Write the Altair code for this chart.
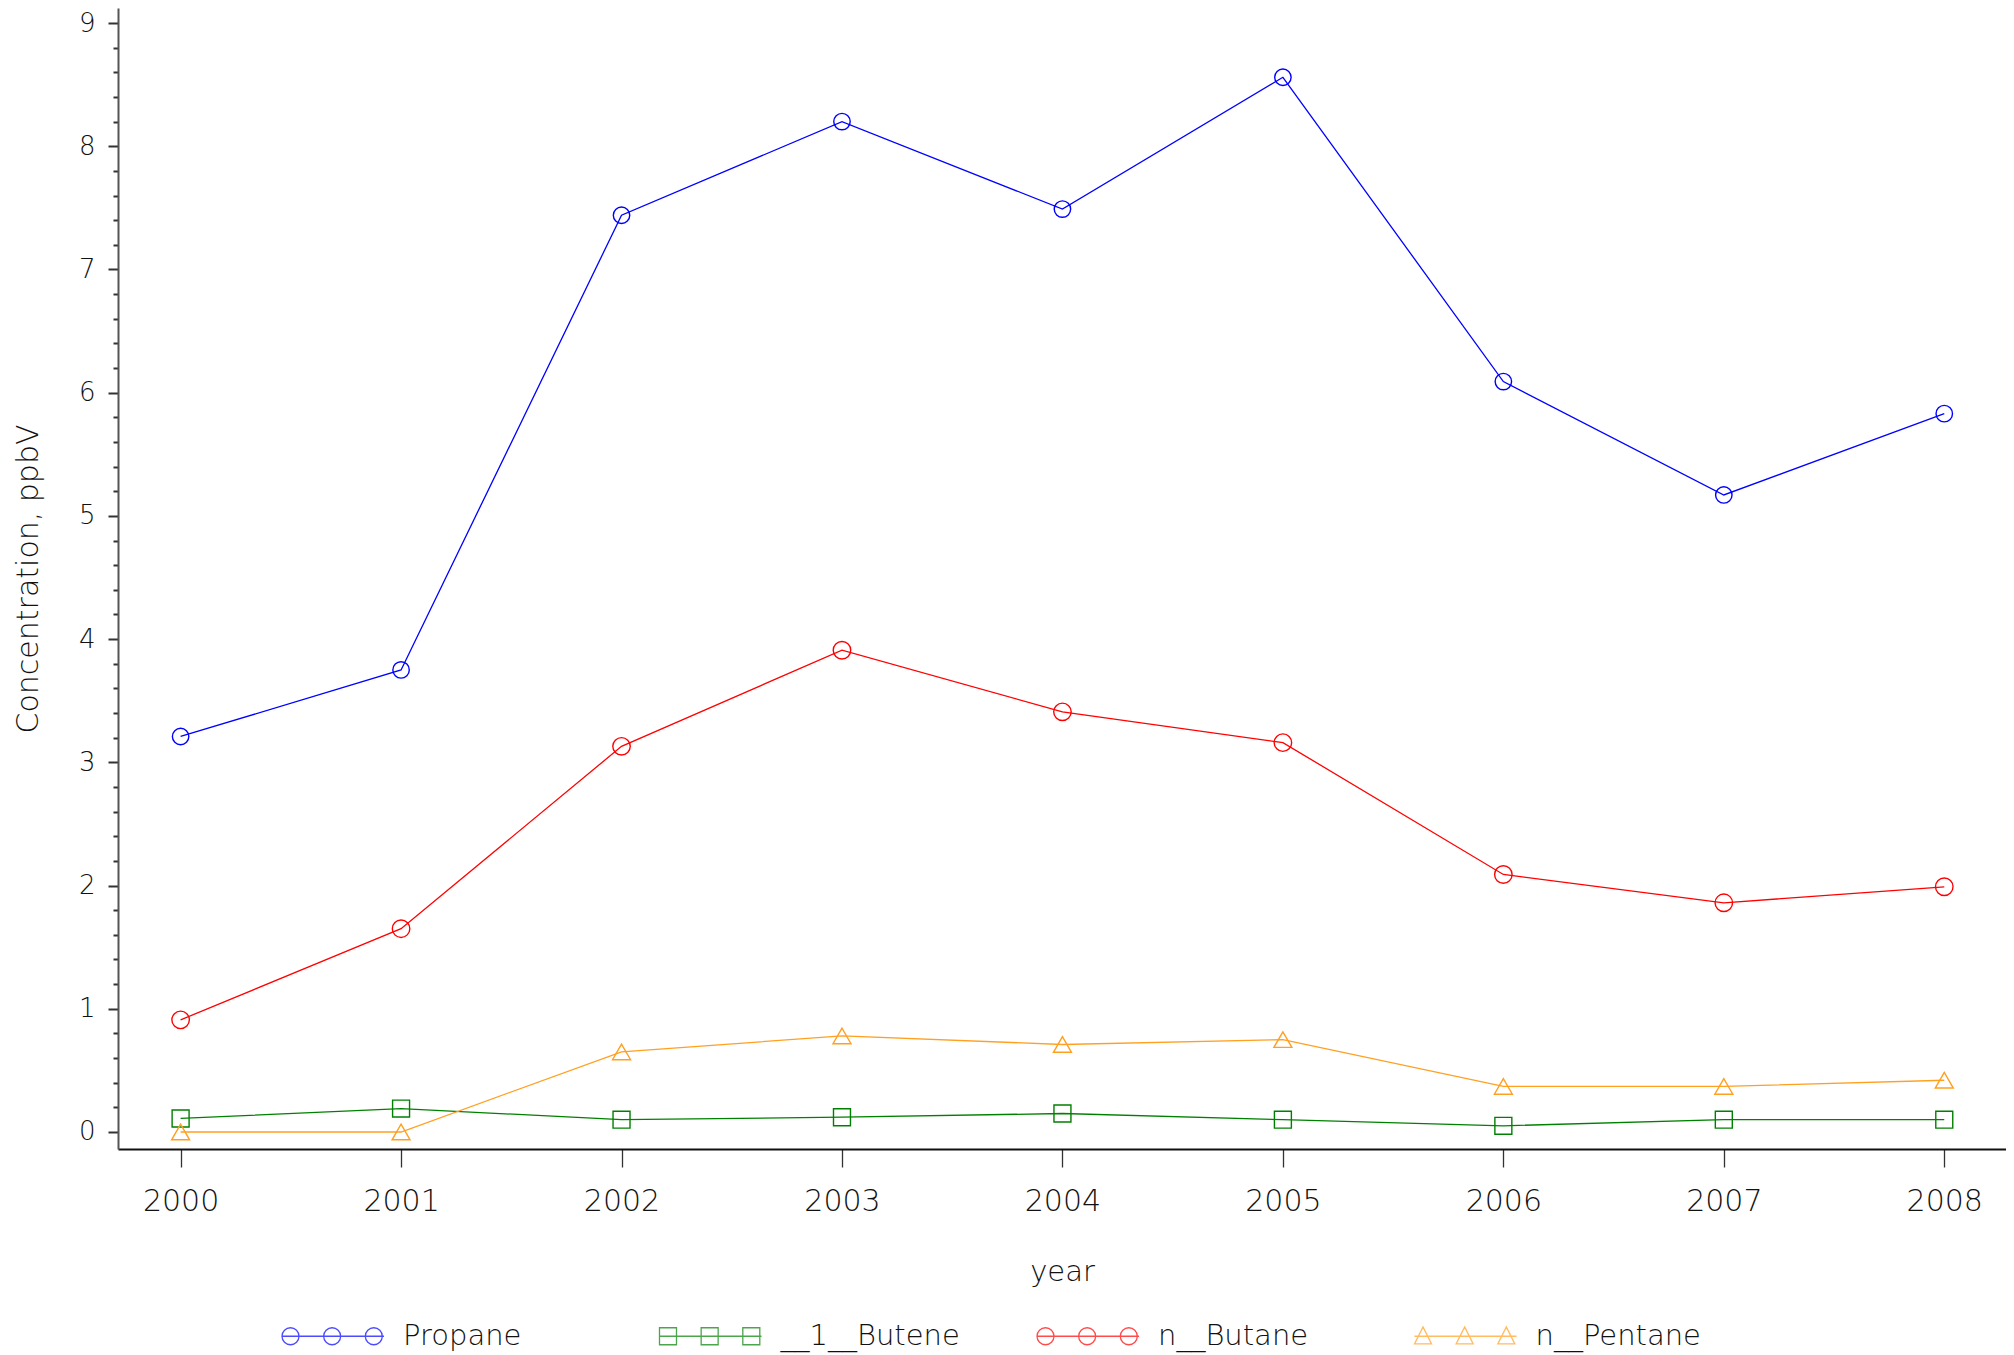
import altair as alt
import pandas as pd

years = [2000, 2001, 2002, 2003, 2004, 2005, 2006, 2007, 2008]
series = ["Propane", "__1__Butene", "n__Butane", "n__Pentane"]
propane = [3.21, 3.75, 7.44, 8.20, 7.49, 8.56, 6.09, 5.17, 5.83]
butene = [0.11, 0.19, 0.10, 0.12, 0.15, 0.10, 0.05, 0.10, 0.10]
butane = [0.91, 1.65, 3.13, 3.91, 3.41, 3.16, 2.09, 1.86, 1.99]
pentane = [0.0, 0.0, 0.65, 0.78, 0.71, 0.75, 0.37, 0.37, 0.42]
colors = ["#0000ff", "#008000", "#ff0000", "#ffa020"]
y_ticks = [round(i * 0.2, 1) for i in range(46)]

values = [propane, butene, butane, pentane]
rows = []
for name, vals in zip(series, values):
    for yr, v in zip(years, vals):
        rows.append({"year": yr, "conc": v, "series": name})
df = pd.DataFrame(rows)

FONT = "'DejaVu Sans ExtraLight', 'DejaVu Sans'"
FW = 200
TXT = "#111111"

# legend symbols: a line through three markers (unit square = marker size)
circ = lambda cx: f"M{cx+1},0 A1,1 0 1,0 {cx-1},0 A1,1 0 1,0 {cx+1},0 "
sq = lambda cx: f"M{cx-1},-1 L{cx+1},-1 L{cx+1},1 L{cx-1},1 Z "
tri = lambda cx: f"M{cx},-1.1 L{cx+1},0.9 L{cx-1},0.9 Z "
line = "M-6,0 L6,0 "
leg_paths = [
    line + circ(-5) + circ(-0.1) + circ(4.8),
    line + sq(-5) + sq(-0.1) + sq(4.8),
    line + circ(-5) + circ(-0.1) + circ(4.8),
    line + tri(-5) + tri(-0.1) + tri(4.8),
]

x_enc = alt.X(
    "year:Q",
    scale=alt.Scale(domain=[1999.716, 2008.28], nice=False, zero=False),
    axis=alt.Axis(
        values=years, format="d", title="year",
        tickSize=18, tickWidth=1.3, tickColor="#333",
        domainColor="#111", domainWidth=2,
        labelFontSize=30, labelPadding=19, labelFont=FONT, labelFontWeight=FW,
        labelColor=TXT, grid=False,
        titleFontSize=29, titleFont=FONT, titleFontWeight=FW, titleColor=TXT,
        titleY=131, titleBaseline="alphabetic",
    ),
)
y_enc = alt.Y(
    "conc:Q",
    scale=alt.Scale(domain=[-0.138, 9.122], nice=False, zero=False),
    axis=alt.Axis(
        values=y_ticks, title="Concentration, ppbV",
        labelExpr="abs(datum.value - round(datum.value)) < 0.001 ? format(datum.value, 'd') : ''",
        tickSize={"condition": {"test": "abs(datum.value - round(datum.value)) < 0.001", "value": 10}, "value": 5},
        tickWidth=2, tickColor="#333",
        domainColor="#555", domainWidth=2,
        labelFontSize=26, labelPadding=13, labelFont=FONT, labelFontWeight=FW,
        labelColor=TXT, grid=False,
        titleFontSize=30, titleFont=FONT, titleFontWeight=FW, titleColor=TXT,
        titleAngle=270, titleX=-81, titleBaseline="alphabetic",
    ),
)

color_nolegend = alt.Color("series:N", scale=alt.Scale(domain=series, range=colors), legend=None)

lines = alt.Chart(df).mark_line(strokeWidth=1.3).encode(
    x=x_enc, y=y_enc, color=color_nolegend, detail="series:N"
)

points = alt.Chart(df).mark_point(filled=False, strokeWidth=1.4, opacity=1).encode(
    x=x_enc, y=y_enc, color=color_nolegend,
    shape=alt.Shape("series:N", scale=alt.Scale(domain=series, range=["circle", "square", "circle", "triangle-up"]), legend=None),
    size=alt.Size("series:N", scale=alt.Scale(domain=series, range=[270, 324, 270, 340]), legend=None),
)

legend = alt.Legend(
    title=None, orient="none", legendX=200.5, legendY=1313.5, direction="horizontal",
    columns=4, gridAlign="all", columnPadding=73.5, padding=0,
    symbolSize=289, symbolStrokeWidth=1.3, symbolFillColor="transparent",
    labelOffset=55.5, labelFontSize=29, labelFont=FONT, labelFontWeight=FW, labelColor=TXT,
    labelLimit=400,
)

legend_layer = alt.Chart(df).transform_filter("false").mark_point(filled=False, strokeWidth=1.3).encode(
    x=x_enc, y=y_enc,
    color=alt.Color("series:N", scale=alt.Scale(domain=series, range=colors), legend=legend),
    shape=alt.Shape("series:N", scale=alt.Scale(domain=series, range=leg_paths), legend=legend),
)

chart = alt.layer(lines, points, legend_layer).resolve_scale(
    color="independent", shape="independent", size="independent"
).properties(
    width=1888, height=1141,
    background="white",
    autosize=alt.AutoSizeParams(type="none"),
    padding={"left": 110, "top": 0, "right": 0, "bottom": 206},
).configure_view(stroke=None, strokeWidth=0).configure_axis(grid=False)

chart.save("out.html", embed_options={"renderer": "svg", "actions": False})
